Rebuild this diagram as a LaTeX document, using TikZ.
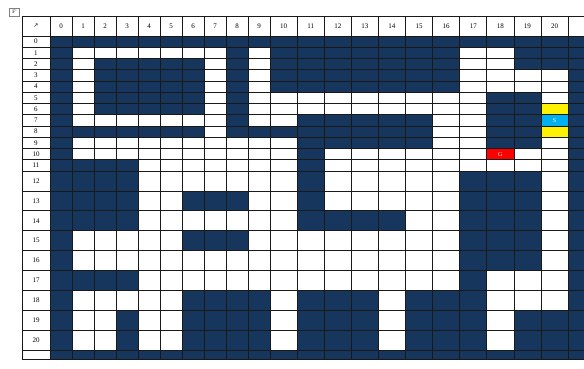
\documentclass[tikz,border=0pt]{standalone}
\usepackage{fontspec}
\setmainfont{Liberation Serif}
\newfontfamily\symfont{DejaVu Sans}
\definecolor{wall}{HTML}{17365D}
\definecolor{startblue}{HTML}{00B0F0}
\tikzset{
  gridline/.style = {black!90, line width = .8pt},
  lbl/.style = {inner sep = 0pt, font = \fontsize{7}{7}\selectfont},
  declare function = {
    cx(\n) = (\n < 10) * (50 + 22*\n) + (\n >= 10) * (270 + 27.1*(\n - 10));
    ry(\m) = (\m < 12) * (36 + 11.25*\m) + and(\m >= 12, \m < 22) * (171 + 19.9*(\m - 12)) + (\m >= 22) * 359;
  }
}
\begin{document}
\begin{tikzpicture}[x = 1pt, y = -1pt]
  \clip (0,0) rectangle (584,369);
  \fill [white] (0,0) rectangle (584,369);
  % walls, one run of cells per entry: row/first/last
  \foreach \r/\a/\b in {0/0/21,
      1/0/0, 1/8/8, 1/10/16, 1/19/21,
      2/0/0, 2/2/6, 2/8/8, 2/10/16, 2/19/21,
      3/0/0, 3/2/6, 3/8/8, 3/10/16, 3/21/21,
      4/0/0, 4/2/6, 4/8/8, 4/10/16, 4/21/21,
      5/0/0, 5/2/6, 5/8/8, 5/18/19, 5/21/21,
      6/0/0, 6/2/6, 6/8/8, 6/18/19, 6/21/21,
      7/0/0, 7/8/8, 7/11/15, 7/18/19, 7/21/21,
      8/0/6, 8/8/15, 8/18/19, 8/21/21,
      9/0/0, 9/11/15, 9/18/19, 9/21/21,
      10/0/0, 10/11/11, 10/21/21,
      11/0/3, 11/11/11, 11/21/21,
      12/0/3, 12/11/11, 12/17/19, 12/21/21,
      13/0/3, 13/6/8, 13/11/11, 13/17/19, 13/21/21,
      14/0/3, 14/11/14, 14/17/19, 14/21/21,
      15/0/0, 15/6/8, 15/17/19, 15/21/21,
      16/0/0, 16/17/19, 16/21/21,
      17/0/3, 17/17/17, 17/21/21,
      18/0/0, 18/6/9, 18/11/13, 18/15/17, 18/21/21,
      19/0/0, 19/3/3, 19/6/9, 19/11/13, 19/15/17, 19/19/21,
      20/0/0, 20/3/3, 20/6/9, 20/11/13, 20/15/17, 20/19/21,
      21/0/21}
    \fill [wall] ({cx(\a)}, {ry(\r)}) rectangle ({cx(\b+1)}, {ry(\r+1)});
  % start, goal and the cells beside the start
  \fill [yellow] ({cx(20)}, {ry(6)}) rectangle ({cx(21)}, {ry(7)});
  \fill [yellow] ({cx(20)}, {ry(8)}) rectangle ({cx(21)}, {ry(9)});
  \fill [startblue] ({cx(20)}, {ry(7)}) rectangle ({cx(21)}, {ry(8)});
  \fill [red] ({cx(18)}, {ry(10)}) rectangle ({cx(19)}, {ry(11)});
  \node [lbl, white, font = \fontsize{6}{6}\selectfont] (start)
    at ({(cx(20)+cx(21))/2}, {(ry(7)+ry(8))/2}) {S};
  \node [lbl, white, font = \fontsize{6}{6}\selectfont] (goal)
    at ({(cx(18)+cx(19))/2}, {(ry(10)+ry(11))/2}) {G};
  % table lines
  \draw [gridline] (22,16) -- (22,359);
  \foreach \c in {0,...,22}
    \draw [gridline] ({cx(\c)}, 16) -- ({cx(\c)}, 359);
  \draw [gridline] (22,16) -- (584,16);
  \foreach \r in {0,...,22}
    \draw [gridline] (22, {ry(\r)}) -- (584, {ry(\r)});
  % headers
  \node [lbl, font = \symfont\fontsize{6}{6}\selectfont] (corner) at (36,26) {↗};
  \foreach \c in {0,...,20}
    \node [lbl] (col\c) at ({(cx(\c)+cx(\c+1))/2}, 26) {\c};
  \foreach \r in {0,...,20}
    \node [lbl] (row\r) at (36, {(ry(\r)+ry(\r+1))/2}) {\r};
  \node [draw = black!50, line width = .4pt, inner sep = .5pt,
         minimum width = 10pt, minimum height = 8pt,
         font = \fontsize{5}{5}\selectfont] (handle) at (14.5,12) {F'};
\end{tikzpicture}
\end{document}
